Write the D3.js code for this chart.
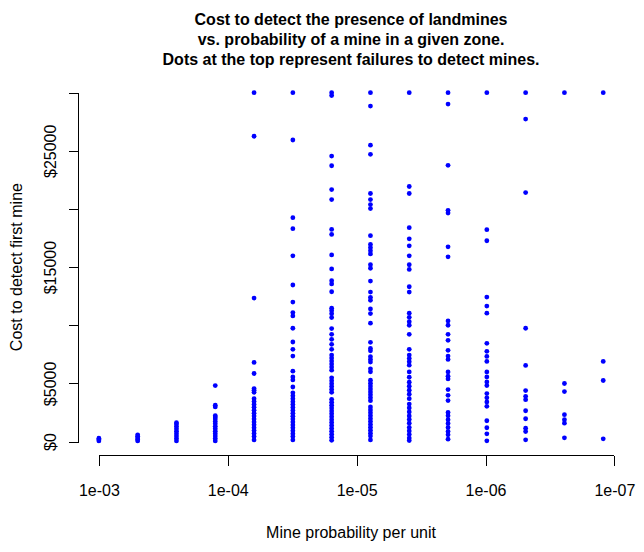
<!DOCTYPE html>
<html><head><meta charset="utf-8">
<script src="https://cdn.jsdelivr.net/npm/d3@7"></script>
<style>
body{margin:0;background:#fff}
svg{display:block}
text{font-family:"Liberation Sans",Arial,sans-serif}
</style>
</head><body>
<svg id="chart" width="644" height="552"></svg>
<script>
const titleLines = [
  "Cost to detect the presence of landmines",
  "vs. probability of a mine in a given zone.",
  "Dots at the top represent failures to detect mines."
];
const xLabel = "Mine probability per unit";
const yLabel = "Cost to detect first mine";

const probs = [1e-3, 5e-4, 2.5e-4, 1.25e-4, 6.25e-5, 3.125e-5, 1.5625e-5,
  7.8125e-6, 3.90625e-6, 1.953125e-6, 9.765625e-7, 4.8828125e-7, 2.44140625e-7, 1.220703125e-7];

const col0 = [50, 170, 290];
const col1 = [50, 180, 310, 450, 580];
const col2 = [50, 260, 470, 680, 890, 1100, 1310, 1500, 1620];
const col3 = [50, 260, 470, 680, 890, 1100, 1310, 1520, 1730, 1940, 2100, 2220, 2980, 3120, 4815];
const col4 = [30000, 26250, 12340, 6805, 5850, 4555, 4400, 4235, 3690, 3440, 3190, 2940, 2690, 2440,
  2190, 1940, 1690, 1440, 1190, 940, 690, 440, 140];
const col5 = [30000, 25930, 19250, 18300, 15970, 13460, 11990, 11090, 10800, 9740, 8560, 7930, 7350,
  6050, 5560, 5300, 4690, 4185, 3930, 3680, 3430, 3180, 2930, 2680, 2430, 2180, 1930, 1680, 1430,
  1180, 930, 680, 430, 140];
const col6 = [30000, 29750, 24550, 23715, 21670, 20810, 18240, 17810, 16050, 14840, 13830, 13550,
  12880, 11470, 11240, 10980, 10660, 9710, 9220, 8790, 8360, 7930, 7435, 7180, 6920, 6660, 6400,
  6140, 5480, 5230, 4980, 4730, 4480, 4235, 3630, 3380, 3130, 2880, 2630, 2380, 2130, 1880, 1630,
  1380, 1130, 880, 630, 380, 110];
const col7 = [30000, 28850, 25480, 24700, 21330, 20810, 20375, 20030, 17700, 16945, 16670, 16400,
  16130, 15200, 14900, 13800, 12855, 12400, 12150, 11400, 11000, 10175, 8530, 8000, 7800, 7300,
  7050, 6830, 6250, 6000, 5275, 5020, 4770, 4520, 4270, 4020, 3770, 3510, 2975, 2720, 2470, 2220,
  1970, 1720, 1470, 1220, 970, 720, 470, 140];
const col8 = [30000, 21930, 21330, 18390, 17435, 16830, 15970, 15200, 14800, 13310, 12855, 11040,
  10680, 10310, 10000, 9220, 7930, 7435, 7150, 6860, 6570, 5990, 5530, 5100, 4755, 4410, 4065,
  3690, 3225, 2895, 2550, 2205, 1900, 1580, 1210, 910, 605, 300, 80];
const col9 = [30000, 29020, 23750, 19880, 19650, 16745, 15880, 10375, 10000, 9220, 8705, 7840, 7350,
  7060, 5990, 5620, 5385, 4470, 3975, 3520, 2507, 2220, 1875, 1555, 1210, 865, 580, 200];
const col10 = [30000, 18215, 17265, 12420, 11645, 11040, 8445, 7755, 7320, 6890, 5990, 5560, 5125,
  4815, 4124, 3760, 3400, 3025, 1790, 1185, 665, 60];
const col11 = [30000, 27725, 21410, 9743, 6545, 4380, 3890, 3600, 2650, 1960, 1150, 865, 145];
const col12 = [30000, 4990, 4295, 2310, 1875, 1580, 320];
const col13 = [30000, 6890, 5250, 230];
const costs = [col0, col1, col2, col3, col4, col5, col6, col7, col8, col9, col10, col11, col12, col13];

const xTicks = [1e-3, 1e-4, 1e-5, 1e-6, 1e-7];
const xTickLabels = ["1e-03", "1e-04", "1e-05", "1e-06", "1e-07"];
const yTicks = [0, 5000, 10000, 15000, 20000, 25000, 30000];
const yTickLabels = ["$0", "$5000", "", "$15000", "", "$25000", ""];

// layout
const W = 644, H = 552;
const plot = {left: 78.7, right: 623.4, top: 78.7, bottom: 455.5};
const padX = (plot.right - plot.left) * 0.04 / 1.08;
const padY = (plot.bottom - plot.top) * 0.04 / 1.08;

const x = d3.scaleLog()
  .domain([d3.max(probs), d3.min(probs)])
  .range([plot.left + padX, plot.right - padX]);
const y = d3.scaleLinear()
  .domain([0, 30000])
  .range([plot.bottom - padY, plot.top + padY]);

const svg = d3.select("#chart");
svg.append("rect").attr("width", W).attr("height", H).attr("fill", "#fff");

// title
svg.append("g").selectAll("text").data(titleLines).join("text")
  .attr("x", (plot.left + plot.right) / 2)
  .attr("y", (d, i) => 25 + i * 20)
  .attr("text-anchor", "middle")
  .attr("font-weight", "bold")
  .attr("font-size", 16)
  .attr("fill", "#000")
  .text(d => d);

// points
const pts = [];
costs.forEach((arr, i) => arr.forEach(v => pts.push({p: probs[i], c: v})));
svg.append("g").selectAll("circle").data(pts).join("circle")
  .attr("cx", d => x(d.p))
  .attr("cy", d => y(d.c))
  .attr("r", 2.4)
  .attr("fill", "#0000ff");

// x axis
const gx = svg.append("g")
  .attr("transform", `translate(0,${plot.bottom})`)
  .call(d3.axisBottom(x).tickValues(xTicks).tickFormat((d, i) => xTickLabels[i]).tickSize(10).tickSizeOuter(0));
gx.select(".domain").remove();
gx.attr("font-family", null).attr("font-size", 16);
gx.selectAll(".tick line").attr("stroke", "#000").attr("shape-rendering", "crispEdges");
gx.selectAll(".tick text").attr("y", 40).attr("dy", null).attr("fill", "#000");
gx.append("line")
  .attr("x1", x(xTicks[0])).attr("x2", x(xTicks[xTicks.length - 1]))
  .attr("y1", 0).attr("y2", 0)
  .attr("stroke", "#000").attr("shape-rendering", "crispEdges");

// y axis
const gy = svg.append("g")
  .attr("transform", `translate(${plot.left},0)`)
  .call(d3.axisLeft(y).tickValues(yTicks).tickFormat((d, i) => yTickLabels[i]).tickSize(10).tickSizeOuter(0));
gy.select(".domain").remove();
gy.attr("font-family", null).attr("font-size", 16);
gy.selectAll(".tick line").attr("stroke", "#000").attr("shape-rendering", "crispEdges");
gy.selectAll(".tick text")
  .attr("x", null).attr("dy", null)
  .attr("text-anchor", "middle")
  .attr("transform", "translate(-23,0) rotate(-90)")
  .attr("fill", "#000");
gy.append("line")
  .attr("x1", 0).attr("x2", 0)
  .attr("y1", y(yTicks[0])).attr("y2", y(yTicks[yTicks.length - 1]))
  .attr("stroke", "#000").attr("shape-rendering", "crispEdges");

// axis titles
svg.append("text")
  .attr("x", (plot.left + plot.right) / 2)
  .attr("y", 538)
  .attr("text-anchor", "middle")
  .attr("font-size", 16)
  .attr("fill", "#000")
  .text(xLabel);
svg.append("text")
  .attr("transform", `translate(21.5,${(plot.top + plot.bottom) / 2}) rotate(-90)`)
  .attr("text-anchor", "middle")
  .attr("font-size", 16)
  .attr("fill", "#000")
  .text(yLabel);
</script>
</body></html>
